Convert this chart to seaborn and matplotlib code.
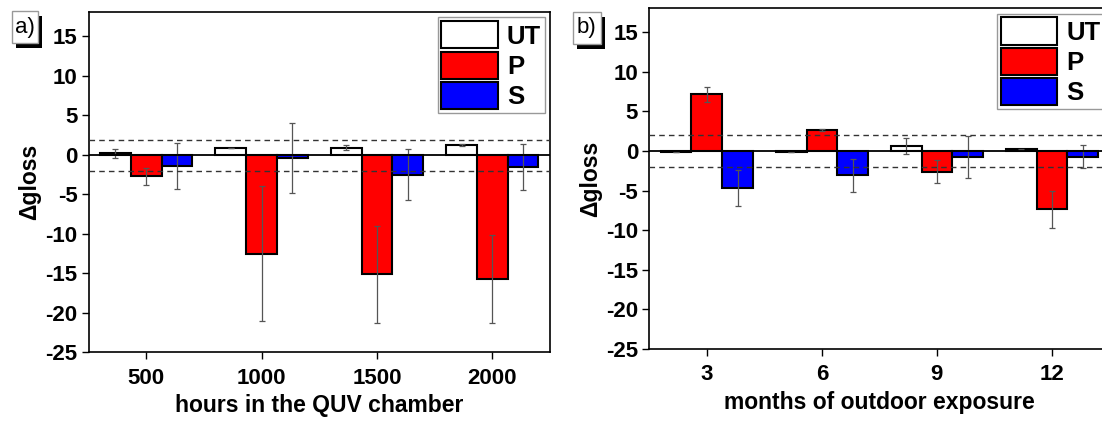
import numpy as np
import pandas as pd
import seaborn as sns
import matplotlib.pyplot as plt
from matplotlib.patches import Rectangle, Patch

# categories
hours = ['500', '1000', '1500', '2000']
months = ['3', '6', '9', '12']
groups = ['UT', 'P', 'S']

# a) QUV chamber
quv_ut = [0.15, 0.8, 0.9, 1.2]
quv_ut_err = [0.55, 0.0, 0.3, 0.1]
quv_p = [-2.75, -12.55, -15.15, -15.7]
quv_p_err = [1.1, 8.55, 6.15, 5.55]
quv_s = [-1.45, -0.45, -2.55, -1.55]
quv_s_err = [2.9, 4.4, 3.2, 2.9]

# b) outdoor exposure
out_ut = [-0.15, -0.15, 0.6, 0.2]
out_ut_err = [0.0, 0.0, 1.0, 0.1]
out_p = [7.15, 2.65, -2.65, -7.35]
out_p_err = [0.95, 0.1, 1.45, 2.35]
out_s = [-4.65, -3.05, -0.8, -0.7]
out_s_err = [2.25, 2.1, 2.65, 1.45]

colors = {'UT': 'white', 'P': 'red', 'S': 'blue'}

W, H = 1102, 421


def make_df(cats, vals, errs):
    rows = []
    for g, v_list, e_list in zip(groups, vals, errs):
        for c, v, e in zip(cats, v_list, e_list):
            rows.append((c, g, v, e))
    return pd.DataFrame(rows, columns=['x', 'group', 'dgloss', 'err'])


def draw_panel(ax, df, cats, xlabel, dash_hi, dash_lo):
    sns.barplot(data=df, x='x', y='dgloss', hue='group', order=cats, hue_order=groups,
                palette=colors, saturation=1, errorbar=None, edgecolor='black',
                linewidth=1.5, legend=False, ax=ax, zorder=2)
    for cont, g in zip(ax.containers, groups):
        sub = df[df.group == g].set_index('x').loc[cats]
        xs = [b.get_x() + b.get_width() / 2 for b in cont]
        ax.errorbar(xs, sub['dgloss'].values, yerr=sub['err'].values, fmt='none',
                    ecolor='#555555', elinewidth=0.9, capsize=2.5, capthick=0.9, zorder=3)
    ax.axhline(0, color='black', lw=1.3, zorder=4)
    ax.axhline(dash_hi, color='#333333', lw=1, ls=(0, (4, 3)), zorder=4)
    ax.axhline(dash_lo, color='#333333', lw=1, ls=(0, (4, 3)), zorder=4)
    ax.set_xlim(-0.5, 3.5)
    ax.set_ylim(-25, 18)
    ax.set_yticks(np.arange(-25, 16, 5))
    ax.set_xlabel(xlabel, fontsize=16.5, labelpad=4)
    ax.set_ylabel('Δgloss', fontsize=16.5, labelpad=3)
    ax.tick_params(direction='out', length=5, width=1, labelsize=16, colors='black', pad=3)
    ax.tick_params(axis='x', pad=6)
    for s in ax.spines.values():
        s.set_visible(True)
        s.set_linewidth(1.2)
        s.set_color('black')
    handles = [Patch(facecolor=colors[g], edgecolor='black', linewidth=1.5) for g in groups]
    ax.legend(handles, groups, loc='upper right', prop={'weight': 'bold', 'size': 18.5},
              frameon=True, fancybox=False, edgecolor='#999999', framealpha=1,
              borderpad=0.15, labelspacing=0.12, handlelength=2.2, handleheight=1.25,
              handletextpad=0.35, borderaxespad=0.2)


def panel_tag(fig, text, x0, y0, w, h):
    fig.patches.append(Rectangle(((x0 + 4.5) / W, 1 - (y0 + h + 5) / H), w / W, h / H,
                                 transform=fig.transFigure, facecolor='black', edgecolor='none'))
    fig.patches.append(Rectangle((x0 / W, 1 - (y0 + h) / H), w / W, h / H,
                                 transform=fig.transFigure, facecolor='white',
                                 edgecolor='#999999', lw=1))
    fig.text((x0 + w / 2) / W, 1 - (y0 + h / 2) / H, text, ha='center', va='center',
             fontsize=16, fontweight='normal', color='black')


sns.set_style('ticks')
plt.rcParams['font.family'] = ['Liberation Sans', 'DejaVu Sans']
plt.rcParams['font.weight'] = 'bold'
plt.rcParams['axes.labelweight'] = 'bold'
plt.rcParams['axes.labelcolor'] = 'black'
plt.rcParams['text.color'] = 'black'
plt.rcParams['axes.unicode_minus'] = False

fig = plt.figure(figsize=(W / 100, H / 100), dpi=100)
ax1 = fig.add_axes([88.5 / W, 1 - 352.3 / H, 461.5 / W, 340.0 / H])
ax2 = fig.add_axes([649.3 / W, 1 - 349.0 / H, 460.2 / W, 340.6 / H])

df_a = make_df(hours, [quv_ut, quv_p, quv_s], [quv_ut_err, quv_p_err, quv_s_err])
df_b = make_df(months, [out_ut, out_p, out_s], [out_ut_err, out_p_err, out_s_err])

draw_panel(ax1, df_a, hours, 'hours in the QUV chamber', 1.85, -2.1)
draw_panel(ax2, df_b, months, 'months of outdoor exposure', 2.0, -2.0)

panel_tag(fig, 'a)', 11.7, 10.7, 26, 32.6)
panel_tag(fig, 'b)', 572.7, 11.7, 28, 32.6)

fig.savefig('out.png', dpi=100)
